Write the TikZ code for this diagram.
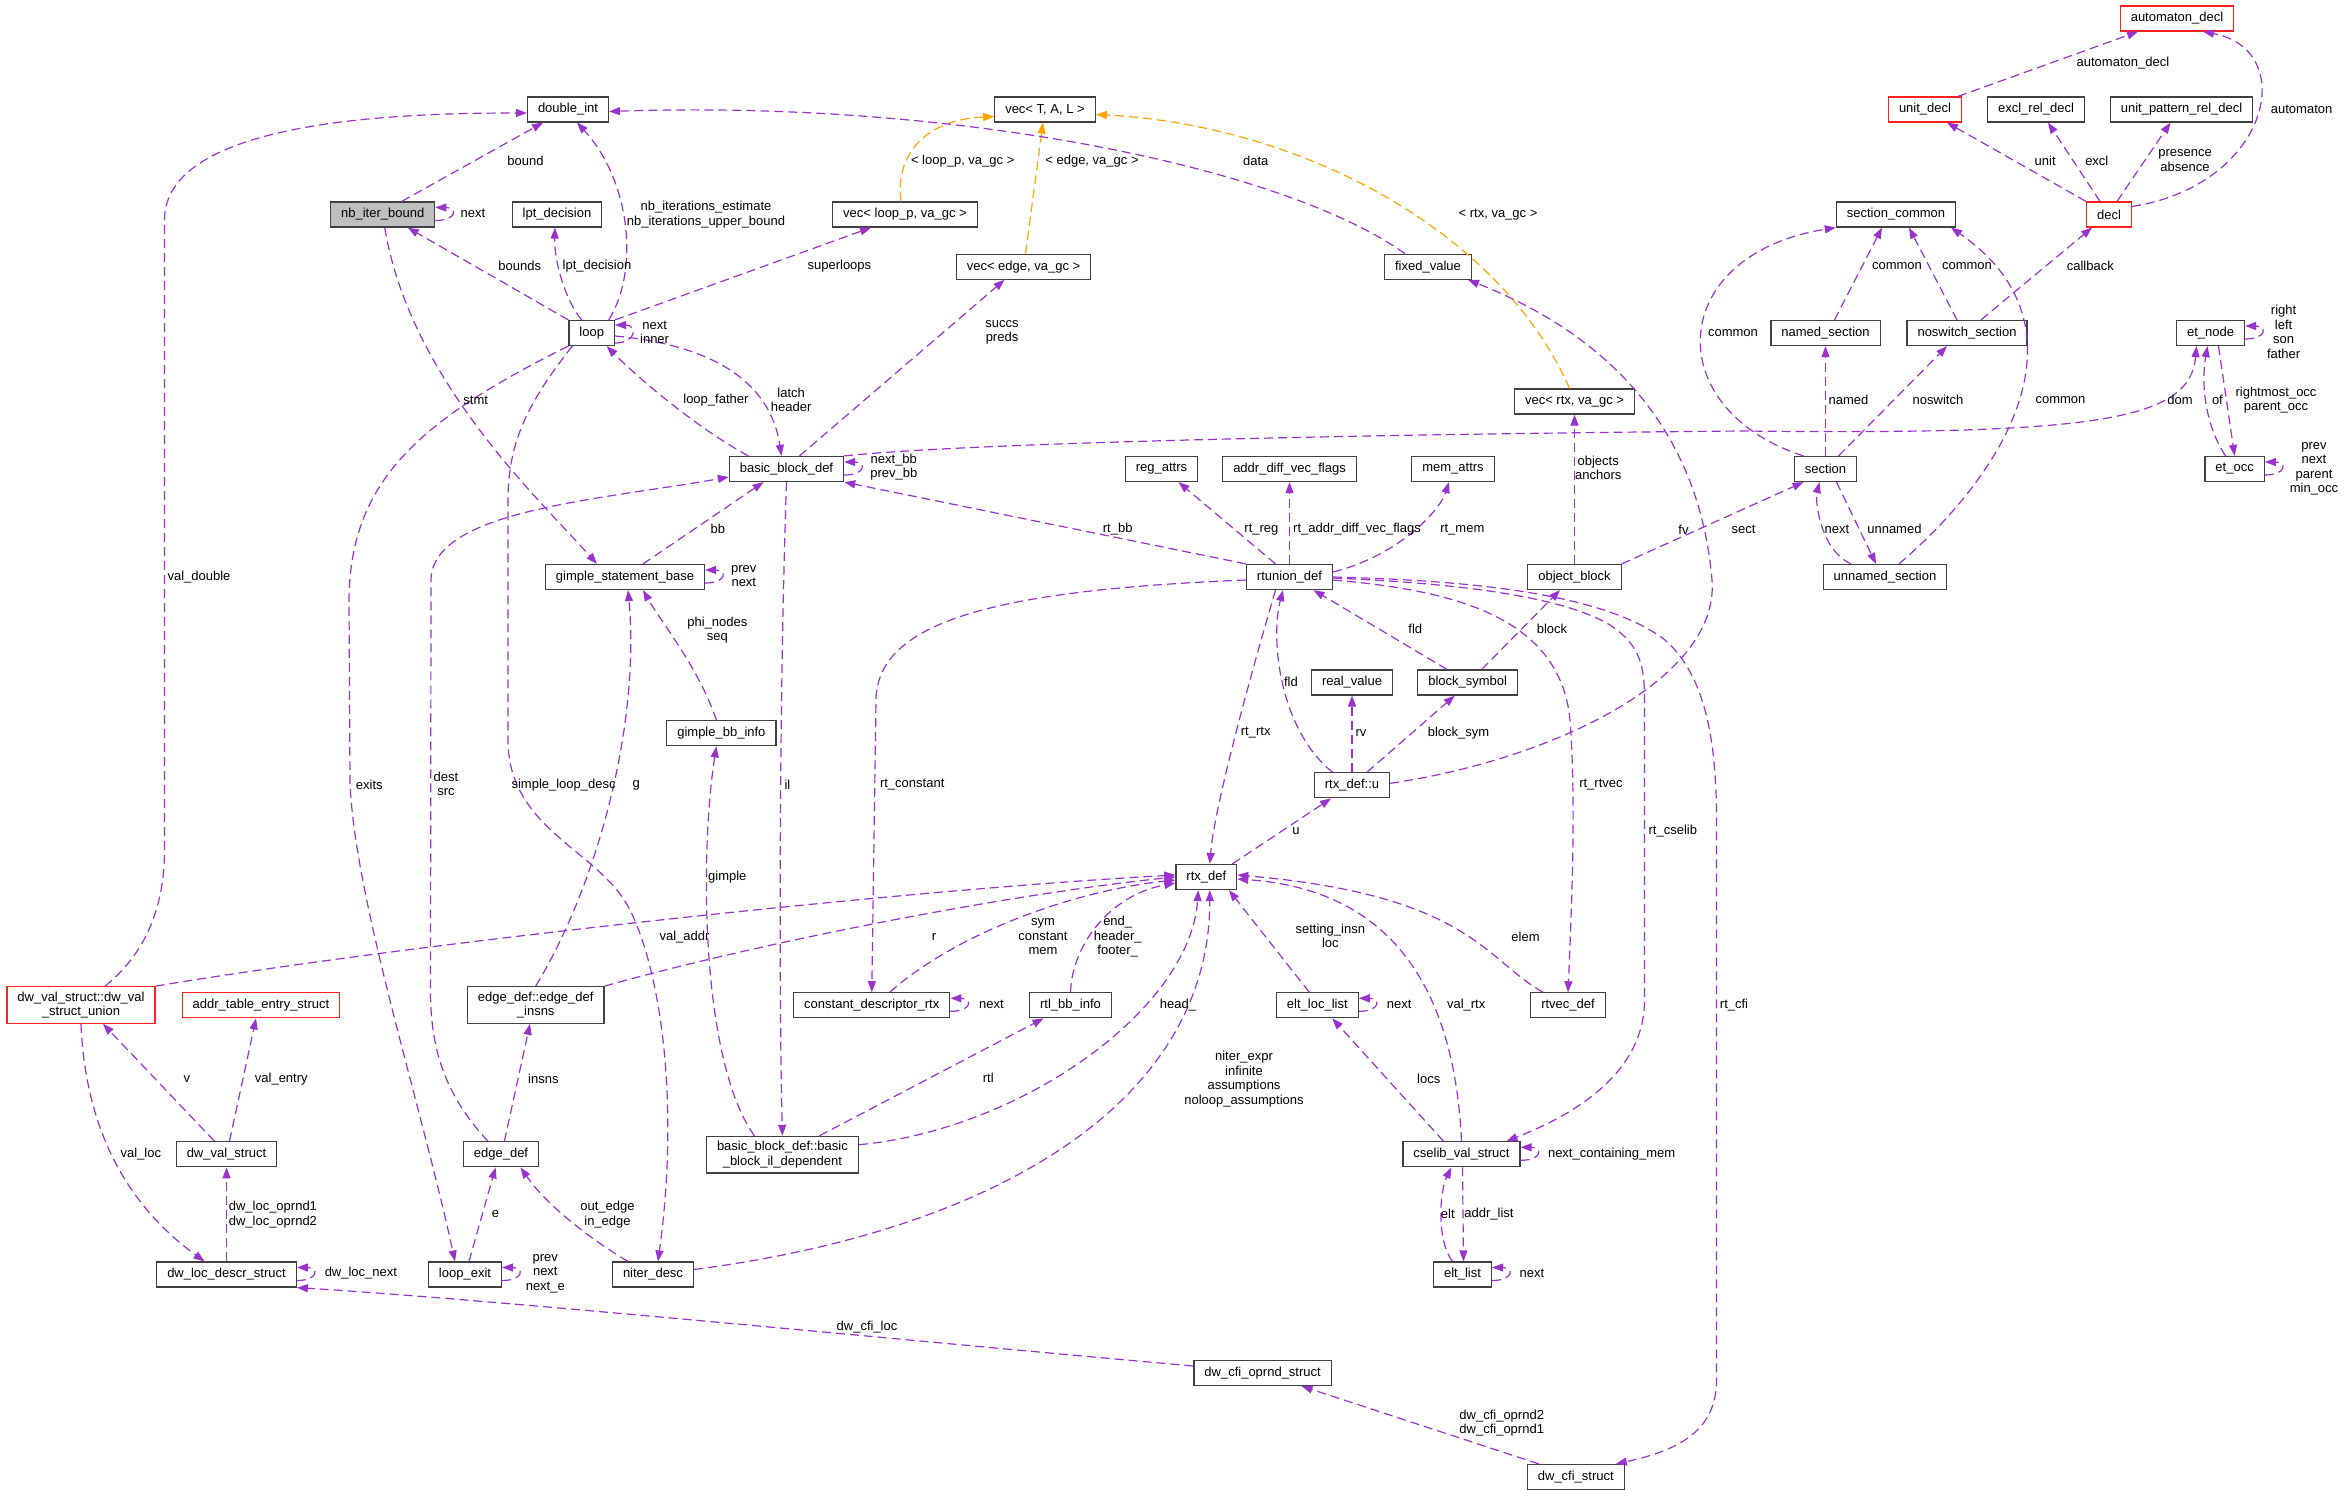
\documentclass[tikz,border=0pt]{standalone}
\usepackage{fontspec}
\setmainfont{Liberation Sans}
\usetikzlibrary{arrows.meta}
\definecolor{edgep}{HTML}{9A32CD}
\definecolor{edgeo}{HTML}{FFA500}
\definecolor{boxline}{HTML}{404040}
\definecolor{nodegray}{HTML}{BFBFBF}
\definecolor{boxred}{HTML}{FF2020}
\newcommand\dxfont{\fontsize{13}{14.5}\selectfont}
\newcommand\selfloop[1]{\draw[dep] ([yshift=-6pt]#1.east) .. controls +(22,0) and +(22,0) .. ([yshift=7pt]#1.east);}
\begin{document}
\begin{tikzpicture}[x=1pt,y=-1pt,
 box/.style={draw=boxline, line width=1.2pt, fill=white, inner xsep=10.5pt, inner ysep=5pt, minimum height=25pt, font=\dxfont, align=center},
 rbox/.style={box, draw=boxred},
 gbox/.style={box, fill=nodegray},
 dep/.style={draw=edgep, line width=1.2pt, dash pattern=on 9pt off 5pt, -{Triangle[length=11pt,width=8pt]}},
 tmpl/.style={dep, draw=edgeo},
 lbl/.style={font=\dxfont, align=center, inner sep=0pt},
]
\fill[white] (0,0) rectangle (2344,1496);
\useasboundingbox (0,0) rectangle (2344,1496);

% ---------------- nodes
\node[rbox] (auto) at (2177,18.5) {automaton\_decl};
\node[rbox] (unitd) at (1925,109.5) {unit\_decl};
\node[box] (excl) at (2036,109.5) {excl\_rel\_decl};
\node[box] (upr) at (2181.5,109.5) {unit\_pattern\_rel\_decl};
\node[rbox] (decl) at (2109,214.5) {decl};
\node[box] (scom) at (1896,214.5) {section\_common};
\node[box] (named) at (1825.5,333) {named\_section};
\node[box] (nosw) at (1967,333) {noswitch\_section};
\node[box] (etn) at (2210.5,333) {et\_node};
\node[box] (sec) at (1825.5,469) {section};
\node[box] (eto) at (2234.6,469) {et\_occ};
\node[box] (unn) at (1885,577) {unnamed\_section};
\node[box] (di) at (568,109.5) {double\_int};
\node[gbox] (nib) at (382.7,214.5) {nb\_iter\_bound};
\node[box] (lpt) at (557,214.5) {lpt\_decision};
\node[box] (loop) at (591.7,333) {loop};
\node[box] (vt) at (1045,109.5) {vec< T, A, L >};
\node[box] (vlp) at (905,214.5) {vec< loop\_p, va\_gc >};
\node[box] (ve) at (1023.5,266.7) {vec< edge, va\_gc >};
\node[box] (fv) at (1428,266.7) {fixed\_value};
\node[box] (vr) at (1574.5,401.5) {vec< rtx, va\_gc >};
\node[box] (bbd) at (786.5,469) {basic\_block\_def};
\node[box] (reg) at (1161.5,469) {reg\_attrs};
\node[box] (adv) at (1289.5,469) {addr\_diff\_vec\_flags};
\node[box] (mem) at (1453,469) {mem\_attrs};
\node[box] (gsb) at (625,577) {gimple\_statement\_base};
\node[box] (gbi) at (721.4,733.3) {gimple\_bb\_info};
\node[box] (rtu) at (1289.5,577) {rtunion\_def};
\node[box] (ob) at (1574.5,577) {object\_block};
\node[box] (rv) at (1352,682.5) {real\_value};
\node[box] (bs) at (1467.7,682.5) {block\_symbol};
\node[box] (u) at (1352,785.3) {rtx\_def::u};
\node[box] (rtx) at (1206.3,877) {rtx\_def};
\node[rbox] (dvu) at (81,1005) {dw\_val\_struct::dw\_val\\\_struct\_union};
\node[rbox] (ate) at (261,1005.3) {addr\_table\_entry\_struct};
\node[box] (edi) at (535.7,1005) {edge\_def::edge\_def\\\_insns};
\node[box] (cdr) at (871.8,1005.3) {constant\_descriptor\_rtx};
\node[box] (rbi) at (1070.5,1005.3) {rtl\_bb\_info};
\node[box] (ell) at (1317.3,1005.3) {elt\_loc\_list};
\node[box] (rvd) at (1568,1005.3) {rtvec\_def};
\node[box] (dvs) at (226.5,1154.3) {dw\_val\_struct};
\node[box] (ed) at (501,1154.3) {edge\_def};
\node[box] (bbil) at (782.4,1154.7) {basic\_block\_def::basic\\\_block\_il\_dependent};
\node[box] (csv) at (1461.5,1154.3) {cselib\_val\_struct};
\node[box] (dld) at (226.5,1274.5) {dw\_loc\_descr\_struct};
\node[box] (le) at (465,1274.5) {loop\_exit};
\node[box] (nd) at (653,1274.5) {niter\_desc};
\node[box] (el) at (1462.5,1274.5) {elt\_list};
\node[box] (dco) at (1262.6,1373) {dw\_cfi\_oprnd\_struct};
\node[box] (dcs) at (1575.8,1477) {dw\_cfi\_struct};

% ---------------- edges
\draw[dep] ([xshift=19pt]nib.north) -- ([xshift=-25pt]di.south);
\selfloop{nib}
\draw[dep] ([xshift=17pt]loop.north) .. controls (640,270) and (630,180) .. ([xshift=9pt]di.south);
\draw[dep] (loop.north west) -- ([xshift=25pt]nib.south);
\draw[dep] ([xshift=-10pt]loop.north) .. controls (565,300) and (554,260) .. ([xshift=-2pt]lpt.south);
\draw[dep] (loop.north east) -- ([xshift=-34pt]vlp.south);
\draw[dep] ([yshift=-10pt]loop.east) .. controls +(22,0) and +(22,0) .. ([yshift=8pt]loop.east);
\draw[tmpl] ([xshift=-4pt]vlp.north) .. controls (895,160) and (920,120) .. ([yshift=-7pt]vt.west);
\draw[tmpl] ([xshift=2pt]ve.north) -- ([xshift=-2pt]vt.south);
\draw[tmpl] ([xshift=-5pt]vr.north) .. controls (1500,230) and (1300,125) .. ([yshift=-5pt]vt.east);
\draw[dep] ([xshift=-23pt]fv.north) .. controls (1280,165) and (950,100) .. ([yshift=-2pt]di.east);
\draw[dep] ([yshift=2pt]u.east) .. controls (1550,760) and (1720,680) .. (1712,580) .. controls (1700,440) and (1620,340) .. ([xshift=40pt]fv.south);
\draw[dep] ([xshift=33pt]unitd.north) -- ([xshift=-39pt]auto.south);
\draw[dep] ([yshift=8pt]decl.east) .. controls (2270,185) and (2300,50) .. ([xshift=26pt]auto.south);
\draw[dep] (decl.north west) -- ([xshift=22pt]unitd.south);
\draw[dep] ([xshift=-9pt]decl.north) -- ([xshift=12pt]excl.south);
\draw[dep] ([xshift=8pt]decl.north) -- ([xshift=-11pt]upr.south);
\draw[dep] ([xshift=9pt]named.north) -- ([xshift=-14pt]scom.south);
\draw[dep] ([xshift=-10pt]nosw.north) -- ([xshift=13pt]scom.south);
\draw[dep] ([xshift=14pt]nosw.north) -- ([xshift=-17pt]decl.south);
\draw[dep] ([xshift=-22pt]sec.north) .. controls (1660,410) and (1665,255) .. (scom.south west);
\draw[dep] ([xshift=14pt]unn.north) .. controls (2020,460) and (2085,320) .. ([xshift=55pt]scom.south);
\draw[dep] (sec.north) -- (named.south);
\draw[dep] ([xshift=13pt]sec.north) -- ([xshift=-20pt]nosw.south);
\draw[dep] ([xshift=11pt]sec.south) -- ([xshift=-9pt]unn.north);
\draw[dep] ([xshift=-34pt]unn.north) .. controls (1820,550) and (1815,500) .. ([xshift=-6pt]sec.south);
\draw[dep] (ob.north east) -- ([xshift=-22pt]sec.south);
\draw[dep] (bbd.north east) .. controls (1000,440) and (1500,433) .. (1744,431) .. controls (2100,435) and (2190,420) .. ([xshift=-14pt]etn.south);
\selfloop{etn}
\draw[dep] ([xshift=-9pt]eto.north) .. controls (2208,430) and (2200,390) .. ([xshift=-3pt]etn.south);
\draw[dep] ([xshift=8pt]etn.south) -- (eto.north);
\selfloop{eto}
\draw[dep] ([xshift=-38pt]bbd.north) .. controls (700,430) and (640,380) .. ([xshift=15pt]loop.south);
\draw[dep] ([yshift=-3pt]loop.east) .. controls (710,345) and (770,380) .. ([xshift=-5pt]bbd.north);
\draw[dep] ([xshift=13pt]bbd.north) -- ([xshift=-19pt]ve.south);
\selfloop{bbd}
\draw[dep] ([xshift=18pt]gsb.north) -- ([xshift=-23pt]bbd.south);
\draw[dep] ([xshift=2pt]nib.south) .. controls (410,380) and (540,500) .. ([xshift=-28pt]gsb.north);
\selfloop{gsb}
\draw[dep] ([xshift=-5pt]gbi.north) .. controls (700,670) and (660,620) .. ([xshift=18pt]gsb.south);
\draw[dep] (edi.north) .. controls (600,880) and (640,720) .. ([xshift=3pt]gsb.south);
\draw[dep] (loop.south west) .. controls (420,420) and (350,480) .. (349,600) -- (350,783) .. controls (355,900) and (420,1100) .. ([xshift=-10pt]le.north);
\draw[dep] ([xshift=-13pt]ed.north) .. controls (440,1090) and (430,1040) .. (430.5,986) -- (431,580) .. controls (432,510) and (600,500) .. ([yshift=-8pt]bbd.west);
\draw[dep] ([xshift=4pt]loop.south west) .. controls (530,400) and (508,440) .. (508,500) -- (508,740) .. controls (508,830) and (600,850) .. (630,910) .. controls (660,970) and (680,1100) .. ([xshift=5pt]nd.north);
\draw[dep] (bbd.south) .. controls (779,700) and (779,1000) .. (bbil.north);
\draw[dep] ([xshift=-28pt]bbil.north) .. controls (700,1060) and (700,850) .. ([xshift=-5pt]gbi.south);
\draw[dep] ([xshift=37pt]bbil.north) -- ([xshift=-27pt]rbi.south);
\draw[dep] ([yshift=10pt]bbil.east) .. controls (1020,1130) and (1190,1010) .. ([xshift=-8pt]rtx.south);
\draw[dep] (rbi.north) .. controls (1072,945) and (1110,895) .. ([yshift=-6pt]rtx.west);
\draw[dep] ([xshift=18pt]cdr.north) .. controls (960,930) and (1080,890) .. ([yshift=-3pt]rtx.west);
\selfloop{cdr}
\draw[dep] (edi.north east) .. controls (750,945) and (1000,895) .. (rtx.west);
\draw[dep] (dvu.north east) .. controls (400,945) and (900,890) .. ([yshift=2pt]rtx.west);
\draw[dep] ([xshift=24pt]dvu.north) .. controls (150,950) and (164.5,900) .. (164.5,850) -- (164.5,220) .. controls (164.5,120) and (400,113) .. ([yshift=-3.5pt]di.west);
\draw[dep] ([xshift=-12pt]dvs.north) -- ([xshift=22pt]dvu.south);
\draw[dep] ([xshift=3pt]dvs.north) -- ([xshift=-5pt]ate.south);
\draw[dep] (dvu.south) .. controls (85,1120) and (120,1200) .. ([xshift=-22pt]dld.north);
\draw[dep] (dld.north) -- (dvs.south);
\selfloop{dld}
\draw[dep] ([yshift=7pt]dco.west) .. controls (900,1340) and (500,1300) .. (dld.south east);
\draw[dep] ([xshift=-37pt]dcs.north) -- ([xshift=39pt]dco.south);
\draw[dep] (rtu.east) .. controls (1450,580) and (1600,590) .. (1665,640) .. controls (1705,675) and (1716.5,740) .. (1716.5,820) -- (1716.5,1380) .. controls (1716.5,1430) and (1680,1450) .. ([xshift=40pt]dcs.north);
\draw[dep] ([yshift=-1pt]rtu.east) .. controls (1450,583) and (1560,595) .. (1610,625) .. controls (1640,645) and (1644.5,665) .. (1644.5,700) -- (1644.5,1000) .. controls (1644.5,1080) and (1560,1120) .. ([xshift=45pt]csv.north);
\draw[dep] ([yshift=-3pt]rtu.east) .. controls (1450,590) and (1560,615) .. (1570,720) .. controls (1576,800) and (1572,900) .. (rvd.north);
\draw[dep] (rtu.north west) -- (bbd.south east);
\draw[dep] ([xshift=-14pt]rtu.north) -- ([xshift=17pt]reg.south);
\draw[dep] (rtu.north) -- (adv.south);
\draw[dep] ([yshift=5pt]rtu.east) .. controls (1400,555) and (1440,510) .. ([xshift=-4pt]mem.south);
\draw[dep] ([xshift=-14pt]rtu.south) .. controls (1258,650) and (1215,800) .. ([xshift=3.5pt]rtx.north);
\draw[dep] ([yshift=-3pt]rtu.west) .. controls (1000,590) and (877,620) .. (876,700) -- (cdr.north);
\draw[dep] ([xshift=-19.5pt]u.north) .. controls (1280,730) and (1270,640) .. ([xshift=-6.5pt]rtu.south);
\draw[dep] ([xshift=-20.7pt]bs.north) -- ([xshift=24pt]rtu.south);
\draw[dep] ([xshift=14pt]bs.north) -- ([xshift=-14.5pt]ob.south);
\draw[dep] (ob.north) -- (vr.south);
\draw[dep] (u.north) -- (rv.south);
\draw[dep] ([xshift=15pt]u.north) -- ([xshift=-13pt]bs.south);
\draw[dep] ([xshift=26pt]rtx.north) -- ([xshift=-21pt]u.south);
\draw[dep] ([xshift=-8pt]ell.north) -- ([xshift=22.6pt]rtx.south);
\selfloop{ell}
\draw[dep] (csv.north) .. controls (1455,1000) and (1400,890) .. ([yshift=-2pt]rtx.east);
\draw[dep] ([xshift=-25pt]rvd.north) .. controls (1485,960) and (1470,895) .. ([yshift=2pt]rtx.east);
\draw[dep] ([xshift=-18pt]csv.north) -- ([xshift=15pt]ell.south);
\selfloop{csv}
\draw[dep] ([xshift=-10pt]el.north) .. controls (1436,1240) and (1440,1190) .. ([xshift=-10pt]csv.south);
\draw[dep] ([xshift=1pt]csv.south) -- ([xshift=1pt]el.north);
\selfloop{el}
\draw[dep] ([xshift=3.4pt]ed.north) -- ([xshift=-5.7pt]edi.south);
\draw[dep] ([xshift=4pt]le.north) -- ([xshift=-5.4pt]ed.south);
\selfloop{le}
\draw[dep] ([xshift=-25pt]nd.north) .. controls (600,1245) and (550,1210) .. ([xshift=19.5pt]ed.south);
\draw[dep] ([yshift=5pt]nd.east) .. controls (1000,1230) and (1210,1100) .. ([xshift=3.5pt]rtx.south);

% ---------------- labels
\node[lbl] (lb1) at (525.5,160.7) {bound};
\node[lbl] (lb2) at (473,213) {next};
\node[lbl] (lb3) at (706,214.5) {nb\_iterations\_estimate\\nb\_iterations\_upper\_bound};
\node[lbl] (lb4) at (519.7,265.7) {bounds};
\node[lbl] (lb5) at (597,265.7) {lpt\_decision};
\node[lbl] (lb6) at (839.4,265.7) {superloops};
\node[lbl] (lb7) at (654.6,332.5) {next\\inner};
\node[lbl] (lb8) at (962.7,161) {< loop\_p, va\_gc >};
\node[lbl] (lb9) at (1092,161) {< edge, va\_gc >};
\node[lbl] (lb10) at (1498,214.3) {< rtx, va\_gc >};
\node[lbl] (lb11) at (1255.7,160.7) {data};
\node[lbl] (lb12) at (1683.5,529.3) {fv};
\node[lbl] (lb13) at (2122.9,62.7) {automaton\_decl};
\node[lbl] (lb14) at (2301.6,109) {automaton};
\node[lbl] (lb15) at (2045.2,160.7) {unit};
\node[lbl] (lb16) at (2096.8,160.7) {excl};
\node[lbl] (lb17) at (2185,160.5) {presence\\absence};
\node[lbl] (lb18) at (1897,265.7) {common};
\node[lbl] (lb19) at (1967,265.7) {common};
\node[lbl] (lb20) at (2090.3,265.7) {callback};
\node[lbl] (lb21) at (1733,332.7) {common};
\node[lbl] (lb22) at (2060.5,400) {common};
\node[lbl] (lb23) at (1848.5,400) {named};
\node[lbl] (lb24) at (1938,400) {noswitch};
\node[lbl] (lb25) at (1894.4,529.3) {unnamed};
\node[lbl] (lb26) at (1837,529.3) {next};
\node[lbl] (lb27) at (1743.6,529.3) {sect};
\node[lbl] (lb28) at (2180,400) {dom};
\node[lbl] (lb29) at (2283.6,332) {right\\left\\son\\father};
\node[lbl] (lb30) at (2217.4,400) {of};
\node[lbl] (lb31) at (2276,400) {rightmost\_occ\\parent\_occ};
\node[lbl] (lb32) at (2314,468.7) {prev\\next\\parent\\min\_occ};
\node[lbl] (lb33) at (715.9,400) {loop\_father};
\node[lbl] (lb34) at (791.2,400) {latch\\header};
\node[lbl] (lb35) at (1002,332.3) {succs\\preds};
\node[lbl] (lb36) at (893.8,467) {next\_bb\\prev\_bb};
\node[lbl] (lb37) at (717.8,529.3) {bb};
\node[lbl] (lb38) at (475.7,400) {stmt};
\node[lbl] (lb39) at (743.8,576.3) {prev\\next};
\node[lbl] (lb40) at (717.4,630) {phi\_nodes\\seq};
\node[lbl] (lb41) at (636.3,785) {g};
\node[lbl] (lb42) at (369.3,785) {exits};
\node[lbl] (lb43) at (446,784) {dest\\src};
\node[lbl] (lb44) at (563.6,785) {simple\_loop\_desc};
\node[lbl] (lb45) at (787.4,785) {il};
\node[lbl] (lb46) at (727.3,876.7) {gimple};
\node[lbl] (lb47) at (988.3,1078.3) {rtl};
\node[lbl] (lb48) at (1178,1005) {head\_};
\node[lbl] (lb49) at (1117.7,936.7) {end\_\\header\_\\footer\_};
\node[lbl] (lb50) at (1043,936.7) {sym\\constant\\mem};
\node[lbl] (lb51) at (934,936.7) {r};
\node[lbl] (lb52) at (684.5,936.7) {val\_addr};
\node[lbl] (lb53) at (199,576.7) {val\_double};
\node[lbl] (lb54) at (186.8,1078.7) {v};
\node[lbl] (lb55) at (281.3,1078.7) {val\_entry};
\node[lbl] (lb56) at (140.8,1153.7) {val\_loc};
\node[lbl] (lb57) at (272.9,1214.5) {dw\_loc\_oprnd1\\dw\_loc\_oprnd2};
\node[lbl] (lb58) at (360.9,1273.3) {dw\_loc\_next};
\node[lbl] (lb59) at (867,1326.7) {dw\_cfi\_loc};
\node[lbl] (lb60) at (1501.7,1423) {dw\_cfi\_oprnd2\\dw\_cfi\_oprnd1};
\node[lbl] (lb61) at (1734,1004.7) {rt\_cfi};
\node[lbl] (lb62) at (1672.8,830.7) {rt\_cselib};
\node[lbl] (lb63) at (1600.9,785) {rt\_rtvec};
\node[lbl] (lb64) at (1117.7,529.3) {rt\_bb};
\node[lbl] (lb65) at (1261.4,529.3) {rt\_reg};
\node[lbl] (lb66) at (1357,529.3) {rt\_addr\_diff\_vec\_flags};
\node[lbl] (lb67) at (1462.3,529.3) {rt\_mem};
\node[lbl] (lb68) at (1255.7,732.7) {rt\_rtx};
\node[lbl] (lb69) at (912.2,785) {rt\_constant};
\node[lbl] (lb70) at (1290.9,681.7) {fld};
\node[lbl] (lb71) at (1415.3,629.3) {fld};
\node[lbl] (lb72) at (1552,629.3) {block};
\node[lbl] (lb73) at (1598.2,468) {objects\\anchors};
\node[lbl] (lb74) at (1361,732.7) {rv};
\node[lbl] (lb75) at (1458.5,732.7) {block\_sym};
\node[lbl] (lb76) at (1295.9,830.7) {u};
\node[lbl] (lb77) at (1330.3,936) {setting\_insn\\loc};
\node[lbl] (lb78) at (1399.2,1004.7) {next};
\node[lbl] (lb79) at (1466.2,1004.7) {val\_rtx};
\node[lbl] (lb80) at (1525.5,936.7) {elem};
\node[lbl] (lb81) at (1428.7,1078.7) {locs};
\node[lbl] (lb82) at (1611.6,1153.7) {next\_containing\_mem};
\node[lbl] (lb83) at (1447.8,1213.7) {elt};
\node[lbl] (lb84) at (1489,1213.7) {addr\_list};
\node[lbl] (lb85) at (1532,1273.3) {next};
\node[lbl] (lb86) at (543.4,1078.7) {insns};
\node[lbl] (lb87) at (495.6,1213.7) {e};
\node[lbl] (lb88) at (545.3,1273.3) {prev\\next\\next\_e};
\node[lbl] (lb89) at (607.5,1214.5) {out\_edge\\in\_edge};
\node[lbl] (lb90) at (1244,1079) {niter\_expr\\infinite\\assumptions\\noloop\_assumptions};
\node[lbl] (lb91) at (991.4,1004.7) {next};
\end{tikzpicture}
\end{document}
